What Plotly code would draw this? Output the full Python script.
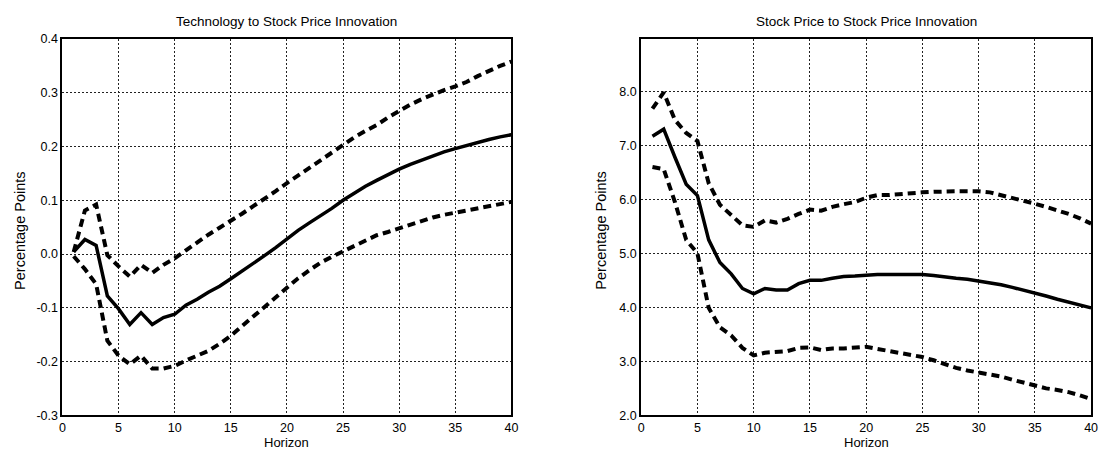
import plotly.graph_objects as go

# Impulse-response horizons
horizon = list(range(1, 41))

# Technology response to a stock price innovation (point estimate and bands)
tech_irf = [0.004, 0.027, 0.016, -0.078, -0.102, -0.131, -0.109, -0.131, -0.118, -0.112,
            -0.095, -0.084, -0.071, -0.060, -0.046, -0.032, -0.017, -0.003, 0.012, 0.029,
            0.044, 0.058, 0.071, 0.085, 0.100, 0.113, 0.126, 0.137, 0.148, 0.158,
            0.167, 0.175, 0.183, 0.190, 0.196, 0.202, 0.208, 0.213, 0.218, 0.222]
tech_upper = [0.004, 0.081, 0.092, -0.002, -0.023, -0.042, -0.020, -0.035, -0.020, -0.008,
              0.007, 0.022, 0.036, 0.049, 0.061, 0.075, 0.089, 0.102, 0.117, 0.132,
              0.146, 0.160, 0.175, 0.190, 0.204, 0.217, 0.229, 0.240, 0.254, 0.267,
              0.278, 0.288, 0.297, 0.305, 0.312, 0.320, 0.331, 0.341, 0.350, 0.358]
tech_lower = [-0.004, -0.028, -0.056, -0.161, -0.189, -0.205, -0.189, -0.213, -0.213, -0.208,
              -0.198, -0.189, -0.180, -0.167, -0.152, -0.134, -0.116, -0.097, -0.079, -0.061,
              -0.045, -0.030, -0.016, -0.005, 0.005, 0.017, 0.027, 0.035, 0.041, 0.048,
              0.055, 0.062, 0.068, 0.073, 0.077, 0.081, 0.085, 0.089, 0.093, 0.097]

# Stock price response to its own innovation (point estimate and bands)
stock_irf = [7.17, 7.30, 6.78, 6.28, 6.07, 5.25, 4.83, 4.62, 4.35, 4.25,
             4.35, 4.32, 4.32, 4.44, 4.50, 4.50, 4.54, 4.57, 4.58, 4.60,
             4.61, 4.61, 4.61, 4.61, 4.61, 4.59, 4.56, 4.54, 4.52, 4.49,
             4.46, 4.42, 4.37, 4.32, 4.27, 4.21, 4.15, 4.10, 4.05, 3.99]
stock_upper = [7.68, 7.98, 7.47, 7.23, 7.08, 6.30, 5.90, 5.72, 5.52, 5.49,
               5.61, 5.57, 5.64, 5.73, 5.81, 5.79, 5.86, 5.91, 5.95, 6.03,
               6.08, 6.08, 6.10, 6.12, 6.13, 6.14, 6.15, 6.15, 6.15, 6.15,
               6.13, 6.08, 6.02, 5.97, 5.92, 5.86, 5.80, 5.73, 5.65, 5.55]
stock_lower = [6.60, 6.56, 5.95, 5.25, 5.00, 3.99, 3.63, 3.48, 3.25, 3.11,
               3.16, 3.17, 3.19, 3.25, 3.26, 3.21, 3.24, 3.24, 3.25, 3.27,
               3.23, 3.19, 3.15, 3.12, 3.08, 3.02, 2.95, 2.88, 2.83, 2.79,
               2.76, 2.72, 2.66, 2.61, 2.56, 2.50, 2.47, 2.43, 2.37, 2.30]

x_ticks = [0, 5, 10, 15, 20, 25, 30, 35, 40]
tech_ticks = [-0.3, -0.2, -0.1, 0.0, 0.1, 0.2, 0.3, 0.4]
tech_tick_text = ["-0.3", "-0.2", "-0.1", "0.0", "0.1", "0.2", "0.3", "0.4"]
stock_ticks = [2.0, 3.0, 4.0, 5.0, 6.0, 7.0, 8.0]
stock_tick_text = ["2.0", "3.0", "4.0", "5.0", "6.0", "7.0", "8.0"]

titles = ["Technology to Stock Price Innovation", "Stock Price to Stock Price Innovation"]
x_label = "Horizon"
y_label = "Percentage Points"

W, H = 1111, 466
FONT = "Liberation Sans, Arial, sans-serif"

fig = go.Figure()

solid = dict(color="black", width=3.5)
dashed = dict(color="black", width=4, dash="8px,5px")

for xa, ya, mid, up, lo in [("x", "y", tech_irf, tech_upper, tech_lower),
                            ("x2", "y2", stock_irf, stock_upper, stock_lower)]:
    fig.add_trace(go.Scatter(x=horizon, y=up, mode="lines", line=dashed,
                             xaxis=xa, yaxis=ya, showlegend=False))
    fig.add_trace(go.Scatter(x=horizon, y=lo, mode="lines", line=dashed,
                             xaxis=xa, yaxis=ya, showlegend=False))
    fig.add_trace(go.Scatter(x=horizon, y=mid, mode="lines", line=solid,
                             xaxis=xa, yaxis=ya, showlegend=False))

# plot-area boxes in pixels
left_box = (60, 513)
right_box = (644, 1098)
top_px, bottom_px = 33, 421
y_dom = [1 - bottom_px / H, 1 - top_px / H]

axis_common = dict(
    showline=True, linecolor="black", linewidth=2, mirror=True,
    showgrid=True, gridcolor="#222222", gridwidth=1, griddash="2px,2px",
    zeroline=False, ticks="", tickfont=dict(family=FONT, size=12.5, color="black"),
)

fig.update_layout(
    width=W, height=H, autosize=False,
    margin=dict(l=0, r=0, t=0, b=0, pad=0),
    paper_bgcolor="white", plot_bgcolor="white",
    font=dict(family=FONT, size=12, color="black"),
    xaxis=dict(domain=[left_box[0] / W, left_box[1] / W], range=[0, 40],
               tickvals=x_ticks, anchor="y", **axis_common),
    yaxis=dict(domain=y_dom, range=[-0.3, 0.4], tickvals=tech_ticks,
               ticktext=tech_tick_text, anchor="x", **axis_common),
    xaxis2=dict(domain=[right_box[0] / W, right_box[1] / W], range=[0, 40],
                tickvals=x_ticks, anchor="y2", **axis_common),
    yaxis2=dict(domain=y_dom, range=[2.0, 8.97], tickvals=stock_ticks,
                ticktext=stock_tick_text, anchor="x2", **axis_common),
)

annotations = []
for (x0, x1), title, ylab_off in zip([left_box, right_box], titles, [43, 40]):
    cx = (x0 + x1) / 2 / W
    annotations.append(dict(text=title, x=cx, y=1 - 15 / H, xref="paper", yref="paper",
                            showarrow=False, xanchor="center", yanchor="middle",
                            font=dict(family=FONT, size=13.5, color="black")))
    annotations.append(dict(text=x_label, x=cx, y=1 - 449 / H, xref="paper", yref="paper",
                            showarrow=False, xanchor="center", yanchor="middle",
                            font=dict(family=FONT, size=13, color="black")))
    annotations.append(dict(text=y_label, x=(x0 - ylab_off) / W, y=1 - 230 / H,
                            xref="paper", yref="paper", textangle=-90,
                            showarrow=False, xanchor="center", yanchor="middle",
                            font=dict(family=FONT, size=14.5, color="black")))
fig.update_layout(annotations=annotations)

fig.write_html("out.html", config={"responsive": False})
